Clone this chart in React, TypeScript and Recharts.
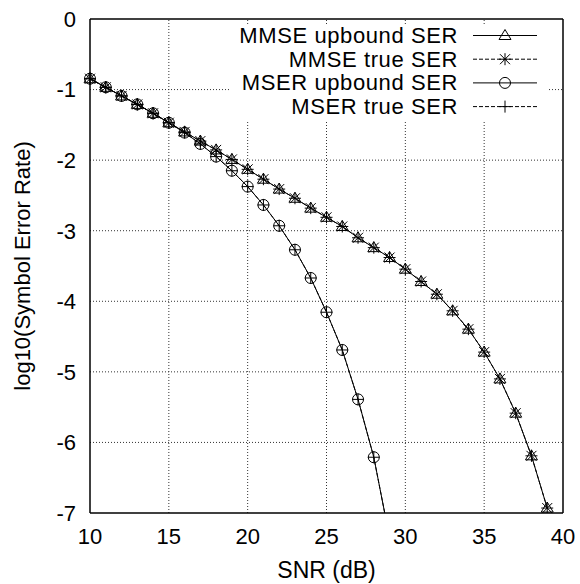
import React from 'react';

import { Label, Line, LineChart, ReferenceLine, XAxis, YAxis } from 'recharts';

const snrMmse = [10, 11, 12, 13, 14, 15, 16, 17, 18, 19, 20, 21, 22, 23, 24, 25, 26, 27, 28, 29, 30, 31, 32, 33, 34, 35, 36, 37, 38, 39];
const mmseUpbound = [
  -0.846, -0.968, -1.09, -1.21, -1.336, -1.47, -1.6, -1.73, -1.855, -1.99, -2.13, -2.27, -2.41, -2.54, -2.68,
  -2.81, -2.94, -3.1, -3.24, -3.38, -3.545, -3.72, -3.9, -4.135, -4.395, -4.72, -5.1, -5.585, -6.19, -6.93,
];
const mmseTrue = [
  -0.846, -0.968, -1.09, -1.21, -1.336, -1.47, -1.6, -1.73, -1.855, -1.99, -2.13, -2.27, -2.41, -2.54, -2.68,
  -2.81, -2.94, -3.1, -3.24, -3.38, -3.545, -3.72, -3.9, -4.135, -4.395, -4.72, -5.1, -5.585, -6.19, -6.93,
];
const snrMser = [10, 11, 12, 13, 14, 15, 16, 17, 18, 19, 20, 21, 22, 23, 24, 25, 26, 27, 28, 29];
const mserUpbound = [
  -0.846, -0.968, -1.09, -1.21, -1.336, -1.47, -1.61, -1.77, -1.95, -2.15, -2.375, -2.635, -2.93, -3.27, -3.67,
  -4.155, -4.69, -5.39, -6.21, -7.35,
];
const mserTrue = [
  -0.846, -0.968, -1.09, -1.21, -1.336, -1.47, -1.61, -1.77, -1.95, -2.15, -2.375, -2.635, -2.93, -3.27, -3.67,
  -4.155, -4.69, -5.39, -6.21, -7.35,
];

const xTicks = [10, 15, 20, 25, 30, 35, 40];
const yTicks = [0, -1, -2, -3, -4, -5, -6, -7];
const xGrid = [15, 20, 25, 30, 35];
const yGrid = [-1, -2, -3, -4, -5, -6];
const seriesNames = ['MMSE upbound SER', 'MMSE true SER', 'MSER upbound SER', 'MSER true SER'];

const FONT = '"Liberation Sans", Arial, Helvetica, sans-serif';

const data = snrMmse.map((snr, i) => {
  const j = snrMser.indexOf(snr);
  return {
    snr,
    mmseUp: mmseUpbound[i],
    mmseTrue: mmseTrue[i],
    mserUp: j >= 0 ? mserUpbound[j] : null,
    mserTrue: j >= 0 ? mserTrue[j] : null,
  };
});

type MarkProps = { cx?: number | null; cy?: number | null };

const Triangle = ({ cx, cy }: MarkProps) =>
  cx == null || cy == null ? <g /> : (
    <path d={`M${cx},${cy - 6}L${cx - 6},${cy + 4}L${cx + 6},${cy + 4}Z`} fill="none" stroke="#000" strokeWidth={1} />
  );

const Star = ({ cx, cy }: MarkProps) =>
  cx == null || cy == null ? <g /> : (
    <path
      d={`M${cx - 6},${cy}H${cx + 6}M${cx},${cy - 6}V${cy + 6}M${cx - 5},${cy - 5}L${cx + 5},${cy + 5}M${cx - 5},${cy + 5}L${cx + 5},${cy - 5}`}
      stroke="#000"
      strokeWidth={1}
    />
  );

const Ring = ({ cx, cy }: MarkProps) =>
  cx == null || cy == null ? <g /> : <circle cx={cx} cy={cy} r={5.5} fill="none" stroke="#000" strokeWidth={1} />;

const Plus = ({ cx, cy }: MarkProps) =>
  cx == null || cy == null ? <g /> : (
    <path d={`M${cx - 6},${cy}H${cx + 6}M${cx},${cy - 6}V${cy + 6}`} stroke="#000" strokeWidth={1} />
  );

const markers = [Triangle, Star, Ring, Plus];
const dashes = [undefined, '4 2', undefined, '4 2'];

const tickStyle = { fontSize: 22, fill: '#000', fontFamily: FONT };

// gnuplot-style key: opaque box that hides the grid, but sits under the border ticks
const KeyBox = (): JSX.Element => (
  <div style={{ position: 'absolute', left: 231, top: 26, width: 317, height: 95, background: '#fff' }}>
    <svg width={317} height={95} style={{ overflow: 'visible' }}>
      {seriesNames.map((name, i) => {
        const y = 9.5 + i * 23.7;
        const Mark = markers[i];
        return (
          <g key={name}>
            <text
              x={227}
              y={y}
              textAnchor="end"
              dominantBaseline="central"
              fontSize={22}
              fontFamily={FONT}
              letterSpacing={0.6}
            >
              {name}
            </text>
            <line x1={242} x2={306} y1={y} y2={y} stroke="#000" strokeWidth={1} strokeDasharray={dashes[i]} />
            <Mark cx={274} cy={y} />
          </g>
        );
      })}
    </svg>
  </div>
);

const App = (): JSX.Element => (
  <div style={{ position: 'relative', width: 580, height: 584, fontFamily: FONT }}>
    <style>{'body{margin:0}'}</style>
    <LineChart width={580} height={584} data={data} margin={{ top: 19, right: 17, bottom: 0, left: 0 }}>
      <XAxis
        dataKey="snr"
        type="number"
        domain={[10, 40]}
        ticks={xTicks}
        height={71}
        tickSize={0}
        tickMargin={15}
        tickLine={false}
        axisLine={{ stroke: '#000', strokeWidth: 1.5 }}
        tick={tickStyle}
      >
        <Label
          content={() => (
            <text x={326.5} y={570} textAnchor="middle" dominantBaseline="central" fontSize={23} fontFamily={FONT}>
              SNR (dB)
            </text>
          )}
        />
      </XAxis>
      <XAxis
        xAxisId="top"
        orientation="top"
        mirror
        type="number"
        domain={[10, 40]}
        ticks={xTicks}
        tickSize={6}
        tick={false}
        tickLine={{ stroke: '#000' }}
        axisLine={{ stroke: '#000', strokeWidth: 1.5 }}
      />
      <XAxis
        xAxisId="bottomIn"
        orientation="bottom"
        mirror
        type="number"
        domain={[10, 40]}
        ticks={xTicks}
        tickSize={6}
        tick={false}
        tickLine={{ stroke: '#000' }}
        axisLine={false}
      />
      <YAxis
        type="number"
        domain={[-7, 0]}
        ticks={yTicks}
        allowDataOverflow
        width={90}
        tickSize={0}
        tickMargin={14}
        tickLine={false}
        axisLine={{ stroke: '#000', strokeWidth: 1.5 }}
        tick={tickStyle}
      >
        <Label
          content={() => (
            <text
              x={22}
              y={266}
              transform="rotate(-90 22 266)"
              textAnchor="middle"
              dominantBaseline="central"
              fontSize={22}
              fontFamily={FONT}
            >
              log10(Symbol Error Rate)
            </text>
          )}
        />
      </YAxis>
      <YAxis
        yAxisId="leftIn"
        orientation="left"
        mirror
        type="number"
        domain={[-7, 0]}
        ticks={yTicks}
        tickSize={6}
        tick={false}
        tickLine={{ stroke: '#000' }}
        axisLine={false}
      />
      <YAxis
        yAxisId="right"
        orientation="right"
        mirror
        type="number"
        domain={[-7, 0]}
        ticks={yTicks}
        tickSize={6}
        tick={false}
        tickLine={{ stroke: '#000' }}
        axisLine={{ stroke: '#000', strokeWidth: 1.5 }}
      />
      {xGrid.map(v => (
        <ReferenceLine key={`gx${v}`} x={v} stroke="#333" strokeWidth={1} strokeDasharray="1 2" />
      ))}
      {yGrid.map(v => (
        <ReferenceLine key={`gy${v}`} y={v} stroke="#333" strokeWidth={1} strokeDasharray="1 2" />
      ))}
      <Line dataKey="mmseUp" type="linear" stroke="#000" strokeWidth={1} dot={(p: any) => <Triangle key={`a${p.index}`} cx={p.cx} cy={p.cy} />} isAnimationActive={false} />
      <Line dataKey="mmseTrue" type="linear" stroke="#000" strokeWidth={1} strokeDasharray="4 2" dot={(p: any) => <Star key={`b${p.index}`} cx={p.cx} cy={p.cy} />} isAnimationActive={false} />
      <Line dataKey="mserUp" type="linear" stroke="#000" strokeWidth={1} dot={(p: any) => <Ring key={`c${p.index}`} cx={p.cx} cy={p.cy} />} isAnimationActive={false} />
      <Line dataKey="mserTrue" type="linear" stroke="#000" strokeWidth={1} strokeDasharray="4 2" dot={(p: any) => <Plus key={`d${p.index}`} cx={p.cx} cy={p.cy} />} isAnimationActive={false} />
    </LineChart>
    <KeyBox />
  </div>
);

export default App;
